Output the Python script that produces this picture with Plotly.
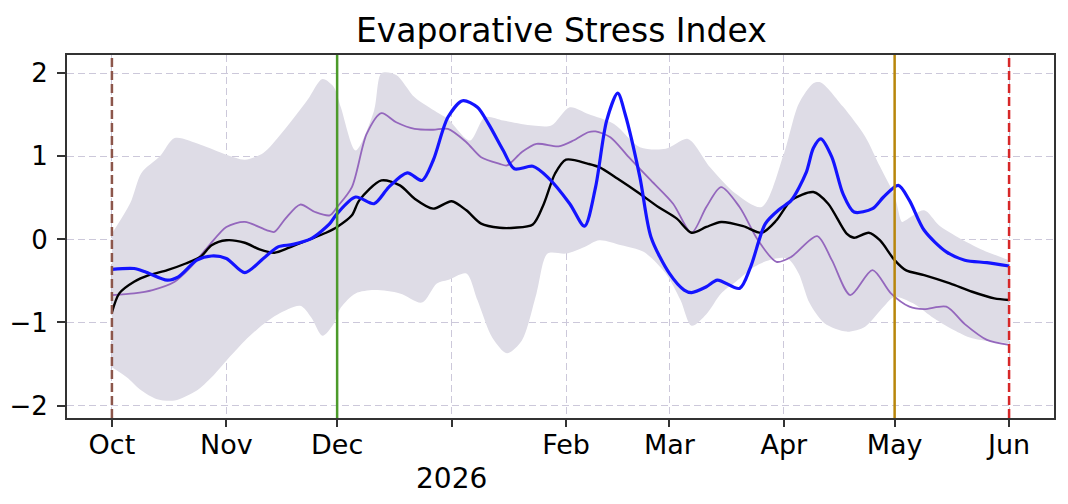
import plotly.graph_objects as go

# --- data ---
black_dates = ["2025-10-01", "2025-10-03", "2025-10-07", "2025-10-11", "2025-10-16", "2025-10-21",
               "2025-10-25", "2025-10-28", "2025-11-01", "2025-11-06", "2025-11-10", "2025-11-14",
               "2025-11-18", "2025-11-23", "2025-11-28", "2025-12-01", "2025-12-05", "2025-12-07",
               "2025-12-13", "2025-12-18", "2025-12-22", "2025-12-27", "2026-01-01", "2026-01-05",
               "2026-01-09", "2026-01-14", "2026-01-18", "2026-01-23", "2026-01-26", "2026-01-29",
               "2026-02-01", "2026-02-07", "2026-02-10", "2026-02-15", "2026-02-21", "2026-02-26",
               "2026-03-03", "2026-03-07", "2026-03-11", "2026-03-15", "2026-03-21", "2026-03-26",
               "2026-03-30", "2026-04-03", "2026-04-09", "2026-04-13", "2026-04-18", "2026-04-20",
               "2026-04-24", "2026-04-27", "2026-05-01", "2026-05-04", "2026-05-09", "2026-05-16",
               "2026-05-22", "2026-05-28", "2026-06-01"]
black_vals = [-0.88, -0.65, -0.51, -0.43, -0.37, -0.29,
              -0.21, -0.07, -0.01, -0.04, -0.12, -0.16,
              -0.10, -0.01, 0.08, 0.15, 0.29, 0.47,
              0.71, 0.65, 0.49, 0.37, 0.46, 0.35,
              0.19, 0.14, 0.14, 0.18, 0.43, 0.79,
              0.96, 0.91, 0.87, 0.73, 0.55, 0.39,
              0.25, 0.08, 0.15, 0.21, 0.16, 0.08,
              0.23, 0.47, 0.57, 0.43, 0.07, 0.02,
              0.08, -0.01, -0.25, -0.37, -0.43, -0.53,
              -0.63, -0.71, -0.73]

blue_dates = ["2025-10-01", "2025-10-07", "2025-10-10", "2025-10-16", "2025-10-19", "2025-10-24",
              "2025-10-28", "2025-11-01", "2025-11-06", "2025-11-11", "2025-11-15", "2025-11-19",
              "2025-11-24", "2025-11-29", "2025-12-01", "2025-12-06", "2025-12-11", "2025-12-15",
              "2025-12-20", "2025-12-24", "2025-12-27", "2025-12-31", "2026-01-04", "2026-01-08",
              "2026-01-11", "2026-01-15", "2026-01-18", "2026-01-23", "2026-01-27", "2026-02-02",
              "2026-02-06", "2026-02-09", "2026-02-12", "2026-02-15", "2026-02-17", "2026-02-21",
              "2026-02-24", "2026-03-01", "2026-03-05", "2026-03-07", "2026-03-11", "2026-03-14",
              "2026-03-20", "2026-03-23", "2026-03-27", "2026-03-31", "2026-04-03", "2026-04-07",
              "2026-04-09", "2026-04-11", "2026-04-14", "2026-04-17", "2026-04-20", "2026-04-25",
              "2026-04-28", "2026-05-02", "2026-05-05", "2026-05-09", "2026-05-15", "2026-05-20",
              "2026-05-26", "2026-06-01"]
blue_vals = [-0.36, -0.35, -0.39, -0.49, -0.45, -0.25,
             -0.20, -0.23, -0.40, -0.23, -0.09, -0.06,
             0.01, 0.19, 0.31, 0.51, 0.43, 0.63,
             0.80, 0.71, 0.95, 1.47, 1.67, 1.59,
             1.39, 1.07, 0.85, 0.88, 0.75, 0.43,
             0.16, 0.63, 1.43, 1.76, 1.51, 0.75,
             0.03, -0.41, -0.61, -0.64, -0.57, -0.49,
             -0.59, -0.33, 0.19, 0.37, 0.47, 0.80,
             1.10, 1.21, 0.99, 0.55, 0.33, 0.37,
             0.51, 0.65, 0.47, 0.11, -0.15, -0.25,
             -0.28, -0.32]

purple_dates = ["2025-10-01", "2025-10-07", "2025-10-12", "2025-10-18", "2025-10-22", "2025-10-27",
                "2025-11-01", "2025-11-06", "2025-11-12", "2025-11-14", "2025-11-17", "2025-11-21",
                "2025-11-25", "2025-11-29", "2025-12-01", "2025-12-05", "2025-12-09", "2025-12-13",
                "2025-12-17", "2025-12-22", "2025-12-27", "2025-12-31", "2026-01-05", "2026-01-09",
                "2026-01-14", "2026-01-16", "2026-01-20", "2026-01-24", "2026-01-30", "2026-02-03",
                "2026-02-07", "2026-02-09", "2026-02-13", "2026-02-18", "2026-02-24", "2026-03-02",
                "2026-03-07", "2026-03-11", "2026-03-15", "2026-03-20", "2026-03-25", "2026-03-30",
                "2026-04-03", "2026-04-10", "2026-04-14", "2026-04-19", "2026-04-25", "2026-04-30",
                "2026-05-05", "2026-05-09", "2026-05-15", "2026-05-20", "2026-05-26", "2026-06-01"]
purple_vals = [-0.67, -0.65, -0.61, -0.51, -0.35, -0.09,
               0.15, 0.21, 0.11, 0.09, 0.25, 0.42,
               0.33, 0.29, 0.39, 0.63, 1.27, 1.52,
               1.41, 1.33, 1.32, 1.33, 1.17, 0.99,
               0.91, 0.89, 1.05, 1.15, 1.12, 1.19,
               1.29, 1.30, 1.23, 0.99, 0.71, 0.43,
               0.08, 0.39, 0.63, 0.39, -0.01, -0.27,
               -0.21, 0.04, -0.25, -0.67, -0.37, -0.65,
               -0.81, -0.84, -0.81, -1.02, -1.21, -1.27]

upper_dates = ["2025-10-01", "2025-10-06", "2025-10-09", "2025-10-14", "2025-10-18", "2025-10-25",
               "2025-11-01", "2025-11-06", "2025-11-11", "2025-11-16", "2025-11-23", "2025-11-27",
               "2025-11-30", "2025-12-02", "2025-12-06", "2025-12-11", "2025-12-13", "2025-12-17",
               "2025-12-22", "2025-12-28", "2025-12-31", "2026-01-06", "2026-01-10", "2026-01-15",
               "2026-01-23", "2026-01-28", "2026-02-02", "2026-02-07", "2026-02-14", "2026-02-21",
               "2026-02-28", "2026-03-06", "2026-03-12", "2026-03-19", "2026-03-26", "2026-04-01",
               "2026-04-05", "2026-04-09", "2026-04-11", "2026-04-17", "2026-04-23", "2026-04-27",
               "2026-05-01", "2026-05-03", "2026-05-04", "2026-05-09", "2026-05-13", "2026-05-18",
               "2026-05-25", "2026-06-01"]
upper_vals = [0.07, 0.44, 0.80, 1.00, 1.22, 1.14,
              1.02, 0.96, 1.04, 1.28, 1.68, 1.93,
              1.84, 1.59, 1.07, 1.55, 2.00, 1.98,
              1.71, 1.53, 1.45, 1.19, 1.47, 1.43,
              1.37, 1.37, 1.59, 1.51, 1.39, 1.11,
              1.09, 1.21, 0.87, 0.55, 0.39, 1.03,
              1.63, 1.88, 1.89, 1.60, 1.24, 0.88,
              0.52, 0.21, 0.23, 0.35, 0.17, 0.03,
              -0.13, -0.25]

lower_dates = ["2025-10-01", "2025-10-05", "2025-10-09", "2025-10-13", "2025-10-18", "2025-10-24",
               "2025-10-28", "2025-11-01", "2025-11-06", "2025-11-11", "2025-11-15", "2025-11-21",
               "2025-11-24", "2025-11-27", "2025-11-30", "2025-12-02", "2025-12-06", "2025-12-11",
               "2025-12-18", "2025-12-24", "2025-12-28", "2025-12-31", "2026-01-05", "2026-01-08",
               "2026-01-12", "2026-01-16", "2026-01-20", "2026-01-24", "2026-01-27", "2026-02-01",
               "2026-02-06", "2026-02-10", "2026-02-16", "2026-02-22", "2026-02-28", "2026-03-04",
               "2026-03-07", "2026-03-11", "2026-03-15", "2026-03-19", "2026-03-24", "2026-03-28",
               "2026-04-02", "2026-04-05", "2026-04-08", "2026-04-12", "2026-04-18", "2026-04-23",
               "2026-04-28", "2026-05-01", "2026-05-06", "2026-05-11", "2026-05-17", "2026-05-22",
               "2026-06-01"]
lower_vals = [-1.54, -1.66, -1.82, -1.92, -1.94, -1.82,
              -1.66, -1.46, -1.22, -1.02, -0.90, -0.80,
              -0.94, -1.16, -1.02, -0.82, -0.65, -0.61,
              -0.65, -0.76, -0.53, -0.49, -0.41, -0.73,
              -1.18, -1.37, -1.22, -0.65, -0.17, -0.17,
              -0.09, -0.01, -0.07, -0.15, -0.41, -0.73,
              -1.04, -0.90, -0.65, -0.51, -0.33, -0.25,
              -0.23, -0.41, -0.77, -1.01, -1.11, -1.05,
              -0.81, -0.69, -0.77, -0.93, -1.09, -1.19,
              -1.25]

event_dates = ["2025-10-01", "2025-12-01", "2026-05-01", "2026-06-01"]
event_colors = ["#8c564b", "#4c9a2a", "#b8860b", "#d62728"]
event_dashes = ["9px,4px", "solid", "solid", "9px,4px"]

tick_dates = ["2025-10-01", "2025-11-01", "2025-12-01", "2026-01-01", "2026-02-01",
              "2026-03-01", "2026-04-01", "2026-05-01", "2026-06-01"]
tick_labels = ["Oct", "Nov", "Dec", "", "Feb", "Mar", "Apr", "May", "Jun"]
year_label = "2026"

FONT = "DejaVu Sans"
SMOOTH = 0.8

fig = go.Figure()

# spread band: lower edge, then upper edge filled down to it
fig.add_trace(go.Scatter(x=lower_dates, y=lower_vals, mode="lines",
                         line=dict(width=0, shape="spline", smoothing=SMOOTH),
                         hoverinfo="skip", showlegend=False))
fig.add_trace(go.Scatter(x=upper_dates, y=upper_vals, mode="lines",
                         fill="tonexty", fillcolor="#dedce6",
                         line=dict(width=0, shape="spline", smoothing=SMOOTH),
                         hoverinfo="skip", showlegend=False))

fig.add_trace(go.Scatter(x=purple_dates, y=purple_vals, mode="lines",
                         line=dict(color="#9467bd", width=1.8, shape="spline", smoothing=SMOOTH),
                         showlegend=False))
fig.add_trace(go.Scatter(x=black_dates, y=black_vals, mode="lines",
                         line=dict(color="black", width=2.4, shape="spline", smoothing=SMOOTH),
                         showlegend=False))
fig.add_trace(go.Scatter(x=blue_dates, y=blue_vals, mode="lines",
                         line=dict(color="#1414ff", width=3.2, shape="spline", smoothing=SMOOTH),
                         showlegend=False))

for d, c, dash in zip(event_dates, event_colors, event_dashes):
    fig.add_vline(x=d, line=dict(color=c, width=2.5, dash=dash), layer="above")

fig.add_annotation(x=tick_dates[3], y=-0.115, xref="x", yref="paper",
                   text=year_label, showarrow=False, yanchor="top",
                   font=dict(family=FONT, size=28, color="black"))

# the page body has an 8px margin, so the figure is sized to fit the 1068x504 window
fig.update_layout(
    width=1060, height=496,
    margin=dict(l=59, r=14, t=47, b=86),
    paper_bgcolor="white", plot_bgcolor="white",
    font=dict(family=FONT, size=27, color="black"),
    title=dict(text="Evaporative Stress Index", x=0.522, xanchor="center",
               y=0.955, yanchor="middle", font=dict(family=FONT, size=33)),
    xaxis=dict(type="date", range=["2025-09-18 20:00", "2026-06-13 04:00"],
               tickvals=tick_dates, ticktext=tick_labels, tickangle=0,
               ticks="outside", ticklen=7, tickwidth=1.5, tickcolor="#333",
               ticklabelstandoff=-5, automargin=False,
               showline=True, linecolor="#333", linewidth=2, mirror=True,
               showgrid=True, gridcolor="#ccc8da", gridwidth=1, griddash="7px,4px",
               zeroline=False),
    yaxis=dict(range=[-2.15, 2.22], tickvals=[-2, -1, 0, 1, 2],
               ticks="outside", ticklen=8, tickwidth=1.5, tickcolor="#333",
               ticklabelstandoff=4, automargin=False, tickfont=dict(size=26),
               showline=True, linecolor="#333", linewidth=2, mirror=True,
               showgrid=True, gridcolor="#ccc8da", gridwidth=1, griddash="7px,4px",
               zeroline=False),
)

fig.write_html("out.html")
